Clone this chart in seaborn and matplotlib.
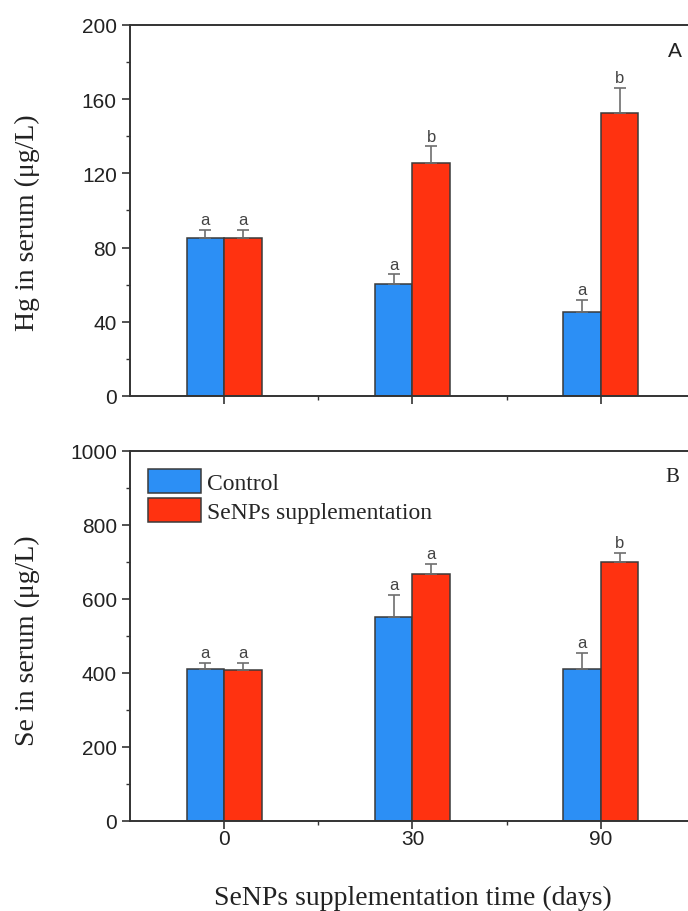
import matplotlib
matplotlib.use("Agg")
import matplotlib.pyplot as plt
import seaborn as sns
import pandas as pd
import numpy as np
from matplotlib.ticker import MultipleLocator, FixedLocator

# ---- data ----
days = ["0", "30", "90"]
groups = ["Control", "SeNPs supplementation"]

hg_control = [85, 60.5, 45.5]
hg_senps = [85, 125.5, 152.5]
hg_control_err = [4.5, 5, 6.5]
hg_senps_err = [4.5, 9, 13.5]
hg_control_sig = ["a", "a", "a"]
hg_senps_sig = ["a", "b", "b"]

se_control = [411, 550, 412]
se_senps = [409, 667, 700]
se_control_err = [17, 62, 43]
se_senps_err = [18, 27, 24]
se_control_sig = ["a", "a", "a"]
se_senps_sig = ["a", "a", "b"]

colors = {"Control": "#2C8FF5", "SeNPs supplementation": "#FF3210"}

sns.set_style("ticks")
plt.rcParams["font.family"] = ["Liberation Sans", "DejaVu Sans"]

fig = plt.figure(figsize=(6.88, 9.12), dpi=100)
ax1 = fig.add_axes([0.189, 0.5647, 0.821, 0.4068])
ax2 = fig.add_axes([0.189, 0.0987, 0.821, 0.4057])


def draw(ax, ctrl, sen, ctrl_e, sen_e, ctrl_s, sen_s, ymax, ymaj, ylabel, letter, legend, letter_family, ylab_y, letter_x):
    df = pd.DataFrame({
        "day": days * 2,
        "group": [groups[0]] * 3 + [groups[1]] * 3,
        "value": list(ctrl) + list(sen),
    })
    sns.barplot(data=df, x="day", y="value", hue="group", order=days,
                hue_order=groups, palette=colors, width=0.4, gap=0,
                errorbar=None, edgecolor="#3a3a3a", linewidth=1.1,
                legend=legend, ax=ax, saturation=1)
    errs = [ctrl_e, sen_e]
    sigs = [ctrl_s, sen_s]
    for cont, err, sig in zip(ax.containers, errs, sigs):
        xs = [p.get_x() + p.get_width() / 2 for p in cont.patches]
        hs = [p.get_height() for p in cont.patches]
        ax.errorbar(xs, hs, yerr=[np.zeros(len(err)), err], fmt="none",
                    ecolor="#6e6e6e", elinewidth=1.2, capsize=4.3,
                    capthick=1.2, zorder=1)
        for x, h, e, s in zip(xs, hs, err, sig):
            ax.annotate(s, (x, h + e), xytext=(0, 2), textcoords="offset points",
                        ha="center", va="bottom", fontsize=12, color="#444444")
    ax.set_xlim(-0.5, 2.5)
    ax.set_ylim(0, ymax)
    ax.yaxis.set_major_locator(MultipleLocator(ymaj))
    ax.yaxis.set_minor_locator(MultipleLocator(ymaj / 2))
    ax.xaxis.set_minor_locator(FixedLocator([0.5, 1.5, 2.5]))
    ax.tick_params(axis="both", which="major", direction="out", length=6,
                   width=1.2, color="#333333", labelsize=15, labelcolor="#222222")
    ax.tick_params(axis="both", which="minor", direction="out", length=3,
                   width=1.0, color="#333333")
    for sp in ax.spines.values():
        sp.set_color("#333333")
        sp.set_linewidth(1.4)
    ax.set_ylabel(ylabel, family=["Liberation Serif", "DejaVu Serif"],
                  fontsize=20, color="#222222")
    ax.yaxis.set_label_coords(-0.16, ylab_y)
    ax.text(letter_x, 0.93, letter, transform=ax.transAxes, fontsize=15,
            family=letter_family, color="#222222", ha="left", va="center")


draw(ax1, hg_control, hg_senps, hg_control_err, hg_senps_err,
     hg_control_sig, hg_senps_sig, 200, 40, "Hg in serum (\u03bcg/L)", "A", False,
     ["Liberation Sans"], 0.47, 0.952)
ax1.set_xlabel("")
ax1.tick_params(axis="x", labelbottom=False)

draw(ax2, se_control, se_senps, se_control_err, se_senps_err,
     se_control_sig, se_senps_sig, 1000, 200, "Se in serum (\u03bcg/L)", "B", True,
     ["Liberation Serif"], 0.49, 0.947)
ax2.set_xlabel("SeNPs supplementation time (days)",
               family=["Liberation Serif", "DejaVu Serif"], fontsize=20,
               color="#222222", labelpad=26)
ax2.tick_params(axis="x", which="major", pad=0)

leg = ax2.legend(loc="upper left", bbox_to_anchor=(0.0, 1.0), frameon=False,
                 prop={"family": "Liberation Serif", "size": 17},
                 handlelength=2.25, handleheight=1.19, labelspacing=0.2,
                 handletextpad=0.25, borderaxespad=0.35)
for h in leg.legend_handles:
    h.set_edgecolor("#3a3a3a")
    h.set_linewidth(1.1)

fig.savefig("out.png", dpi=100)
